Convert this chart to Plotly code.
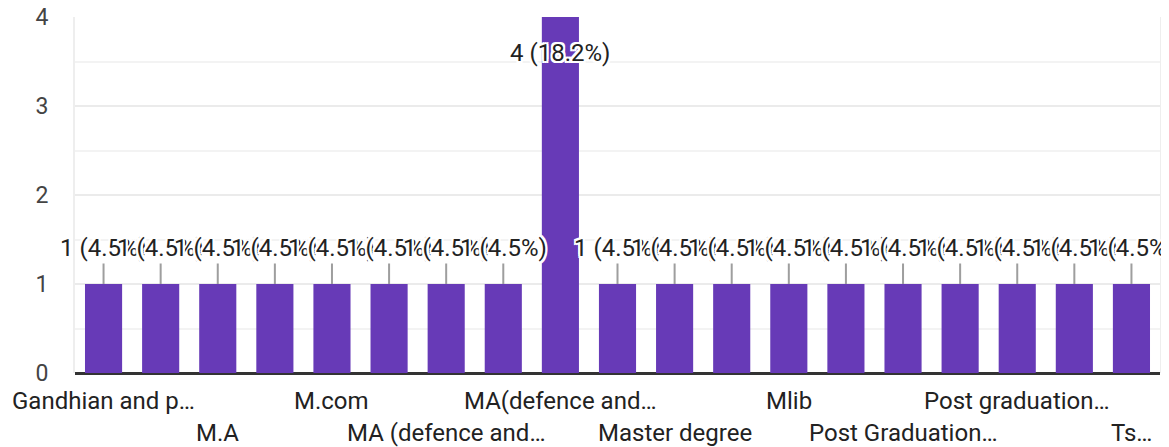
import plotly.graph_objects as go

categories = [
    "Gandhian and peace studies", "M. Com", "M.A", "M.A.", "M.com", "M.Sc",
    "MA (defence and strategic studies)", "MA Economics", "MA(defence and strategic studies)",
    "MA English", "Master degree", "Masters", "Mlib", "PG",
    "Post Graduation in Arts", "Post graduate", "Post graduation in Science",
    "Postgraduate", "Ts master degree",
]
tick_labels = [
    "Gandhian and p…", "", "M.A", "", "M.com", "", "MA (defence and…", "",
    "MA(defence and…", "", "Master degree", "", "Mlib", "", "Post Graduation…", "",
    "Post graduation…", "", "Ts…",
]
counts = [1, 1, 1, 1, 1, 1, 1, 1, 4, 1, 1, 1, 1, 1, 1, 1, 1, 1, 1]
percents = ["4.5%", "4.5%", "4.5%", "4.5%", "4.5%", "4.5%", "4.5%", "4.5%", "18.2%",
            "4.5%", "4.5%", "4.5%", "4.5%", "4.5%", "4.5%", "4.5%", "4.5%", "4.5%", "4.5%"]

FONT = "Roboto, Arial, sans-serif"
TXT = "#222222"
halo = ", ".join(f"{dx}px {dy}px 0 #fff" for dx, dy in
                 [(-2, -2), (2, -2), (-2, 2), (2, 2), (0, 2), (0, -2), (2, 0), (-2, 0)])

fig = go.Figure(go.Bar(x=categories, y=counts, marker_color="#673ab7",
                       marker_line_width=0, hoverinfo="skip"))

annotations = []
ymax = max(counts)
for i, (c, v, p) in enumerate(zip(categories, counts, percents)):
    inside = v == ymax
    annotations.append(dict(
        x=c, y=v, xref="x", yref="y", text=f"{v} ({p})",
        showarrow=True, arrowhead=0, arrowwidth=2, arrowcolor="#9e9e9e",
        ax=0, ay=36 if inside else -36,
        font=dict(family=FONT, size=24, color=TXT, shadow=halo),
    ))
for i, (c, t) in enumerate(zip(categories, tick_labels)):
    if not t:
        continue
    row = (i // 2) % 2
    annotations.append(dict(
        x=c, y=0, xref="x", yref="paper", text=t, showarrow=False,
        yanchor="middle", yshift=-28 if row == 0 else -60,
        font=dict(family=FONT, size=24, color=TXT),
    ))

fig.update_layout(
    width=1169, height=447,
    margin=dict(l=67, r=17, t=9, b=82, autoexpand=False),
    paper_bgcolor="white", plot_bgcolor="white",
    bargap=0.35, showlegend=False,
    annotations=annotations,
    xaxis=dict(showticklabels=False, showgrid=False, ticks="", fixedrange=True,
               range=[-0.5, len(categories) - 0.5], automargin=False),
    yaxis=dict(range=[0, 4], dtick=1, tick0=0, showgrid=True, gridcolor="#ebebeb", gridwidth=2,
               minor=dict(dtick=0.5, showgrid=True, gridcolor="#f3f3f3", gridwidth=2),
               zeroline=True, zerolinecolor="#333333", zerolinewidth=3,
               showline=True, linecolor="#eeeeee", linewidth=2, mirror=True,
               ticklabelstandoff=20, automargin=False, ticklabeloverflow="allow",
               tickfont=dict(family=FONT, size=23, color="#444444")),
)
fig.write_html("out.html")
